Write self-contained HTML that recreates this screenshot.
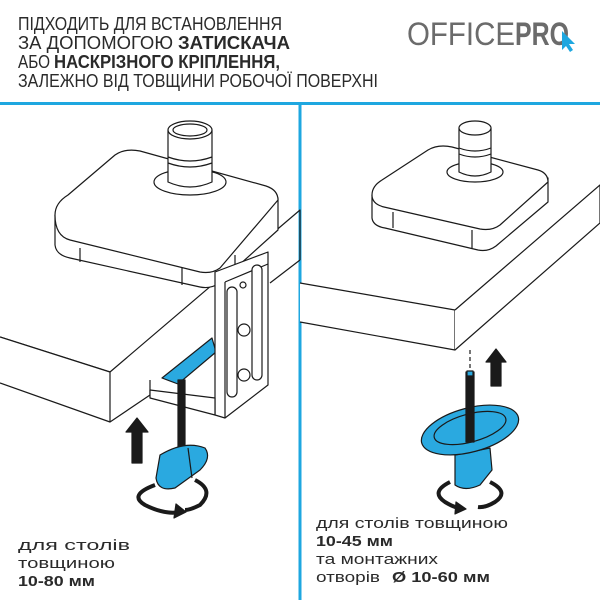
<!DOCTYPE html>
<html><head><meta charset="utf-8"><style>
html,body{margin:0;padding:0;background:#fff;}
svg{display:block}
text{font-family:"Liberation Sans",sans-serif;}
</style></head><body>
<svg width="600" height="600" viewBox="0 0 600 600" xmlns="http://www.w3.org/2000/svg">
<rect width="600" height="600" fill="#fff"/>
<g fill="#2a2a2a" font-size="18">
<text x="18" y="30" textLength="264" lengthAdjust="spacingAndGlyphs">ПІДХОДИТЬ ДЛЯ ВСТАНОВЛЕННЯ</text>
<text x="18" y="49" textLength="155" lengthAdjust="spacingAndGlyphs">ЗА ДОПОМОГОЮ</text>
<text x="178" y="49" font-weight="bold" textLength="112" lengthAdjust="spacingAndGlyphs">ЗАТИСКАЧА</text>
<text x="18" y="68" textLength="32" lengthAdjust="spacingAndGlyphs">АБО</text>
<text x="54" y="68" font-weight="bold" textLength="226" lengthAdjust="spacingAndGlyphs">НАСКРІЗНОГО КРІПЛЕННЯ,</text>
<text x="18" y="87" textLength="360" lengthAdjust="spacingAndGlyphs">ЗАЛЕЖНО ВІД ТОВЩИНИ РОБОЧОЇ ПОВЕРХНІ</text>
</g>
<text x="407" y="45" font-size="32" fill="#6b6b6b" textLength="108" lengthAdjust="spacingAndGlyphs">OFFICE</text>
<text x="515" y="45" font-size="32" font-weight="bold" fill="#6b6b6b" textLength="54" lengthAdjust="spacingAndGlyphs">PRO</text>
<path d="M562 31 L575 44 L569 44 L573 50 L570 52 L566 46 L562 50 Z" fill="#1ea7e0"/>
<rect x="0" y="102" width="600" height="3" fill="#1ea7e0"/>
<rect x="298.5" y="102" width="3" height="498" fill="#1ea7e0"/>

<g fill="#fff" stroke="#1a1a1a" stroke-width="1.2" stroke-linejoin="round">
<!-- LEFT table -->
<path d="M300 260 L270 283" fill="none"/>
<path d="M0 337 L110 372 L300 210 L300 260" fill="none"/>
<path d="M0 337 L110 372 L110 422 L0 383"/>
<path d="M110 422 L150 395 L150 380" fill="none"/>
<!-- clamp block -->
<path d="M55 215 L55 245 Q56 255 70 258 L200 287 Q210 289 218 284 L278 230 L278 198 Z"/>
<path d="M55 215 Q55 203 68 195 L115 155 Q125 148 140 151 L266 186 Q278 190 278 200 L220 268 Q212 274 200 272 L70 240 Q55 236 55 215 Z"/>
<path d="M80 262 L80 248 M182 285 L182 268 M235 270 L235 255" fill="none"/>
<!-- column -->
<ellipse cx="190" cy="182" rx="36" ry="13"/>
<path d="M168 130 L168 182 Q190 192 212 182 L212 130 Z"/>
<ellipse cx="190" cy="130" rx="22" ry="9"/>
<ellipse cx="190" cy="130" rx="17" ry="6"/>
<path d="M168 157 Q190 165 212 157 M168 163 Q190 171 212 163" fill="none"/>
<!-- blue arm under table -->
<path d="M162 378 L212 338 L216 352 L178 384 Z" fill="#2aa9e0"/>
<!-- plate -->
<path d="M215 272 L268 252 L268 385 L225 418 L215 415 Z"/>
<path d="M225 282 L268 264 M225 282 L225 418" fill="none"/>
<rect x="227" y="287" width="10" height="110" rx="5"/>
<rect x="252" y="265" width="10" height="115" rx="5"/>
<circle cx="244" cy="330" r="6"/>
<circle cx="244" cy="375" r="6"/>
<circle cx="243" cy="285" r="3"/>
<path d="M150 390 L215 398 L215 415 L150 398 Z"/>
<!-- screw -->
<rect x="178" y="380" width="7" height="70" fill="#1a1a1a"/>
<!-- knob -->
<path d="M160 455 Q185 440 205 448 Q212 458 200 470 L175 488 Q158 492 156 478 Z" fill="#2aa9e0"/>
<path d="M188 448 L192 478" fill="none"/>
<path d="M155 485 Q128 495 145 505 Q165 515 180 512" fill="none" stroke-width="4"/>
<path d="M195 480 Q215 490 200 505 Q190 510 185 510" fill="none" stroke-width="4"/>
<path d="M176 504 L186 512 L174 518 Z" fill="#1a1a1a"/>
<path d="M132 463 L132 432 L126 432 L137 418 L148 432 L142 432 L142 463 Z" fill="#1a1a1a"/>

<!-- RIGHT table -->
<path d="M300 283 L455 310 L455 350 L300 322"/>
<path d="M455 350 L600 223 L600 185 L455 310"/>
<!-- block -->
<path d="M372 195 L372 218 Q373 226 385 228 L478 250 Q488 252 496 246 L548 202 L548 178 Z"/>
<path d="M372 195 Q372 186 382 180 L428 150 Q438 144 452 147 L538 170 Q548 173 548 182 L500 225 Q492 231 480 229 L384 207 Q372 204 372 195 Z"/>
<path d="M393 228 L393 212 M472 248 L472 230" fill="none"/>
<!-- column -->
<ellipse cx="475" cy="172" rx="28" ry="10"/>
<path d="M459 128 L459 172 Q475 180 491 172 L491 128 Z"/>
<ellipse cx="475" cy="128" rx="16" ry="7"/>
<path d="M459 148 Q475 154 491 148 M459 154 Q475 160 491 154" fill="none"/>
<path d="M470 350 L470 370" fill="none" stroke-dasharray="4 3"/>
<!-- blue oval & knob -->
<path d="M455 455 L455 485 Q465 492 480 485 L492 470 L490 448 Z" fill="#2aa9e0"/>
<ellipse cx="470" cy="430" rx="50" ry="22" transform="rotate(-15 470 430)" fill="#2aa9e0"/>
<ellipse cx="470" cy="428" rx="37" ry="14" transform="rotate(-15 470 428)" fill="#2aa9e0"/>
<rect x="466" y="372" width="8" height="70" fill="#1a1a1a"/>
<rect x="467" y="371" width="6" height="5" fill="#2aa9e0"/>
<path d="M450 482 Q430 492 445 502 Q455 508 460 508" fill="none" stroke-width="4"/>
<path d="M490 482 Q510 492 495 502 Q485 508 478 507" fill="none" stroke-width="4"/>
<path d="M456 502 L466 509 L455 514 Z" fill="#1a1a1a"/>
<path d="M491 386 L491 362 L486 362 L496 349 L506 362 L501 362 L501 386 Z" fill="#1a1a1a"/>
</g>

<g fill="#2a2a2a" font-size="15">
<text x="18" y="550" textLength="112" lengthAdjust="spacingAndGlyphs">для столів</text>
<text x="18" y="568" textLength="97" lengthAdjust="spacingAndGlyphs">товщиною</text>
<text x="18" y="586" font-weight="bold" textLength="77" lengthAdjust="spacingAndGlyphs">10-80 мм</text>
<text x="316" y="528" textLength="192" lengthAdjust="spacingAndGlyphs">для столів  товщиною</text>
<text x="316" y="546" font-weight="bold" textLength="77" lengthAdjust="spacingAndGlyphs">10-45 мм</text>
<text x="316" y="564" textLength="122" lengthAdjust="spacingAndGlyphs">та монтажних</text>
<text x="316" y="582" textLength="64" lengthAdjust="spacingAndGlyphs">отворів</text>
<text x="392" y="582" font-weight="bold" textLength="98" lengthAdjust="spacingAndGlyphs">Ø 10-60 мм</text>
</g>
</svg>
</body></html>
